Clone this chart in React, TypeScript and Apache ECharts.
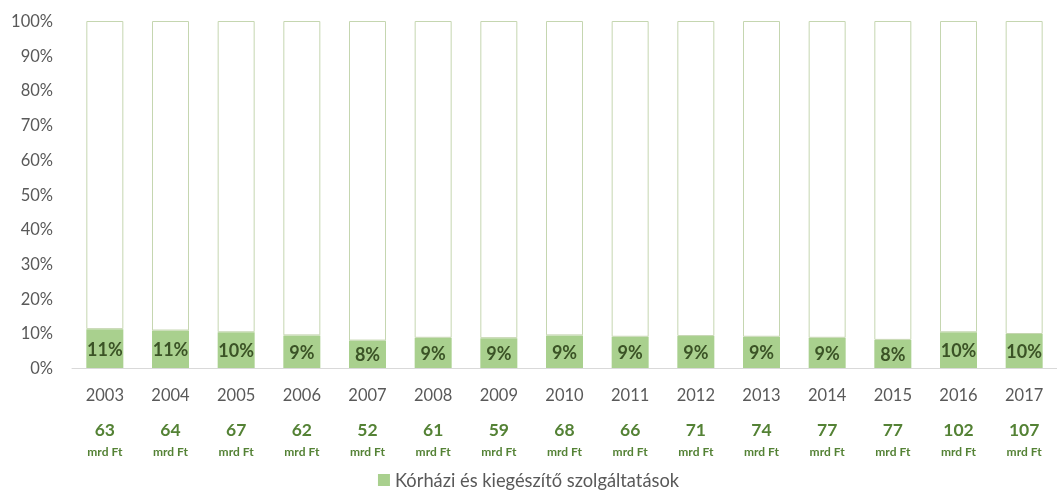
import React, { useEffect, useRef } from "react";
import * as echarts from "echarts";

const years = ["2003", "2004", "2005", "2006", "2007", "2008", "2009", "2010", "2011", "2012", "2013", "2014", "2015", "2016", "2017"];
const shares = [11.2, 10.8, 10.3, 9.4, 7.9, 8.7, 8.6, 9.4, 9.0, 9.2, 9.0, 8.7, 8.1, 10.3, 9.8];
const shareLabels = ["11%", "11%", "10%", "9%", "8%", "9%", "9%", "9%", "9%", "9%", "9%", "9%", "8%", "10%", "10%"];
const amounts = ["63", "64", "67", "62", "52", "61", "59", "68", "66", "71", "74", "77", "77", "102", "107"];
const unit = "mrd Ft";
const seriesName = "Kórházi és kiegészítő szolgáltatások";

const FONT = "Lato, 'Open Sans', sans-serif";

export default function App() {
  const ref = useRef<HTMLDivElement>(null);
  useEffect(() => {
    if (!ref.current) return;
    const chart = echarts.init(ref.current, null, { renderer: "svg" });
    chart.setOption({
      animation: false,
      textStyle: { fontFamily: FONT },
      grid: { left: 72, right: -13, top: 21, bottom: 123 },
      legend: {
        data: [seriesName],
        top: 470,
        left: "center",
        padding: 0,
        icon: "rect",
        itemWidth: 12,
        itemHeight: 12,
        itemGap: 6,
        textStyle: { fontSize: 18.3, lineHeight: 20, color: "#595959", fontFamily: FONT },
      },
      xAxis: {
        type: "category",
        data: years,
        axisTick: { show: false },
        axisLine: { lineStyle: { color: "#d9d9d9", width: 1 } },
        axisLabel: {
          margin: 8,
          interval: 0,
          formatter: (val: string, idx: number) => `{y|${val}}\n{v|${amounts[idx]}}\n{u|${unit}}`,
          rich: {
            y: { fontSize: 16.5, color: "#595959", lineHeight: 38, fontFamily: FONT },
            v: { fontSize: 17.5, fontWeight: "bold", color: "#548235", lineHeight: 30, fontFamily: FONT },
            u: { fontSize: 12, fontWeight: "bold", color: "#548235", lineHeight: 14, fontFamily: FONT },
          },
        },
      },
      yAxis: {
        type: "value",
        min: 0,
        max: 100,
        interval: 10,
        splitLine: { show: false },
        axisLine: { show: false },
        axisTick: { show: false },
        axisLabel: { formatter: "{value}%", fontSize: 16.5, color: "#595959", margin: 19, fontFamily: FONT },
      },
      series: [
        {
          name: seriesName,
          type: "bar",
          stack: "total",
          barWidth: 37,
          data: shares,
          itemStyle: { color: "#a9d08e" },
          label: {
            show: true,
            position: "inside",
            formatter: (p: any) => shareLabels[p.dataIndex],
            fontSize: 18,
            fontWeight: "bold",
            color: "#3b5326",
            fontFamily: FONT,
          },
        },
        {
          name: "rest",
          type: "bar",
          stack: "total",
          barWidth: 37,
          data: shares.map((s) => 100 - s),
          itemStyle: { color: "#ffffff", borderColor: "#c5d6b0", borderWidth: 1 },
          silent: true,
        },
      ],
    });
    return () => chart.dispose();
  }, []);
  return <div ref={ref} style={{ position: "fixed", left: 0, top: 0, width: 1057, height: 491 }} />;
}
